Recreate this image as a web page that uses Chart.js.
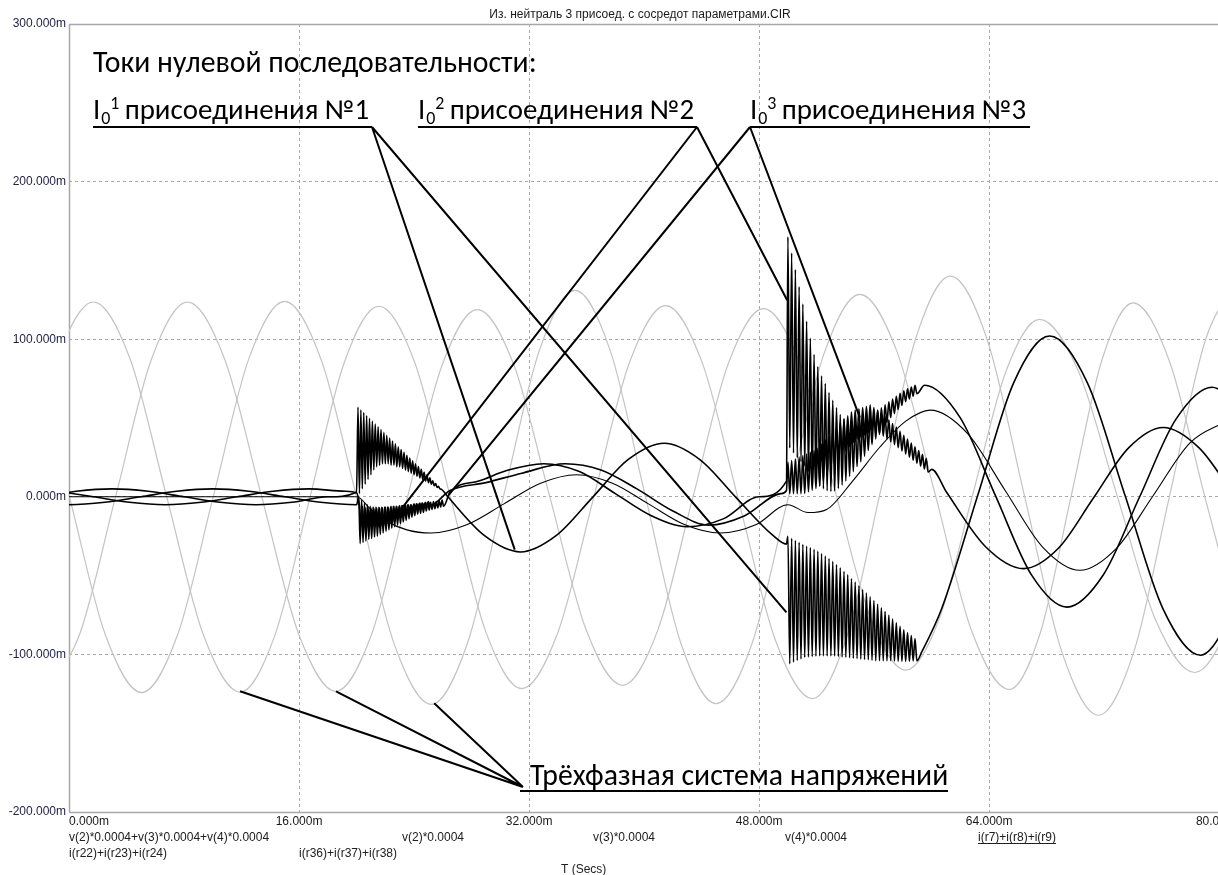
<!DOCTYPE html>
<html>
<head>
<meta charset="utf-8">
<script src="https://cdn.jsdelivr.net/npm/chart.js@4.4.1/dist/chart.umd.min.js"></script>
<style>
  html, body { margin: 0; padding: 0; background: #fff; overflow: hidden; width: 1218px; height: 875px; }
  #wrap { position: relative; width: 1262px; height: 875px; }
  canvas { display: block; }
</style>
</head>
<body>
<div id="wrap"><canvas id="plot" width="1262" height="875"></canvas></div>
<script>
// ---- axis ticks (ms / m-units) ----
const xTickValues = [0, 16, 32, 48, 64, 80];
const yTickValues = [300, 200, 100, 0, -100, -200];

// ---- phase voltages v(2), v(3), v(4) scaled by 0.0004: extremes and quarter points ----
const v2T = [-8.3,-5.8,-3.3,-0.8,1.7,4.25,6.8,9.35,11.9,14.31,16.73,19.14,21.55,24.04,26.53,29.01,31.5,34.0,36.5,39.0,41.5,44.05,46.6,49.15,51.7,54.1,56.5,58.9,61.3,63.88,66.45,69.03,71.6,74.08,76.55,79.03,81.5];
const v2V = [-123.6,-87.4,0,87.4,123.6,87.4,-0.2,-87.7,-123.9,-88.1,-1.5,85.1,120.9,85.4,-0.4,-86.2,-121.7,-86.1,-0.2,85.7,121.3,84.8,-3.4,-91.5,-128,-88.8,6,100.8,140,99.2,0.7,-97.8,-138.6,-97.8,0.7,99.2,140];

const v3T = [-1.76,0.74,3.24,5.74,8.24,10.82,13.4,15.98,18.56,21.02,23.48,25.94,28.4,30.93,33.45,35.98,38.5,40.95,43.4,45.85,48.3,50.78,53.25,55.73,58.2,60.53,62.85,65.18,67.5,70.2,72.9,75.6,78.3,80.73,83.15];
const v3V = [-123.4,-87.2,0.1,87.4,123.6,87.4,0.1,-87.2,-123.4,-87.9,-2.3,83.3,118.8,83.9,-0.4,-84.7,-119.6,-84.6,-0.1,84.4,119.4,85.8,4.7,-76.4,-110,-77.4,1.3,80.0,112.6,79.8,0.6,-78.7,-111.5,-78.8,0.3];

const v4T = [-5.0,-2.49,0.03,2.54,5.05,7.54,10.03,12.51,15.0,17.55,20.1,22.65,25.2,27.7,30.2,32.7,35.2,37.65,40.1,42.55,45.0,47.5,50.0,52.5,55.0,57.6,60.2,62.8,65.4,67.55,69.7,71.85,74.0,76.5,79.0,81.5];
const v4V = [124,87.7,-0.1,-87.9,-124.2,-87.9,-0.1,87.7,124,86.6,-3.9,-94.3,-131.7,-93.2,-0.4,92.5,131,92.6,-0.1,-92.8,-131.2,-93.2,-1.4,90.5,128.5,91.8,3.1,-85.6,-122.3,-86.4,0.4,87.1,123,87.0,0,-87.0];

// ---- zero-sequence voltage v(2)+v(3)+v(4) ----
const u0T = [0,20,21,22,23.5,25.2,27.7,30.25,32.8,35.3,37.8,40.3,42.8,45.3,47.8,50,51.4,52.7,54.5,56.4,58.2,59.9,62.5,65.1,67.7,70.3,72.85,75.4,77.95,80.5];
const u0V = [0,0,-8,-15,-21,-23,-17.6,-4.5,8.6,14,8.6,-4.5,-17.6,-23,-17.6,-5,-10,-8,10,31.6,48,55,40.1,4.2,-31.7,-46.6,-32.7,0.7,34.1,48];

// ---- feeder 1: i(r22)+i(r23)+i(r24) ----
const ia1T = [-2,0.5,3,5.5,8,10.5,13,15.5,18,20];
const ia1V = [0,3.5,5,3.5,0,-3.5,-5,-3.5,0,2.9];
const iaB1Start = 20.1, iaB1Step = 0.2;
const iaB1Hi = [57,55.2,53.4,51.6,49.8,48,46.2,44.4,42.6,40.8,39,37.2,35.4,33.6,31.8,30,28.2,26.4,24.6,22.8,21,19.2,17.4,15.6,13.8,12,10.2,8.4,6.6,4.8];
const iaB1Lo = [2,5,8,11,14,17,19,20,21,21,21,20,20,19,19,18,17,16,15,14,13,12,11,10,9,8,7,6,5,4];
const ia2T = [26.4,28.9,31.4,33.9,36.4,38.9,41.4,43.9,46.4,48.9,49.9];
const ia2V = [-0.5,-24.7,-35,-24.5,-0.5,23.7,34,23.5,-0.5,-24,-30];
const iaB2Start = 50.0, iaB2Step = 0.26;
const iaB2Hi = [-25,-26.3,-27.6,-28.9,-30.2,-31.2,-32.2,-33.3,-34.5,-36,-37.6,-39.2,-41,-43,-45.1,-47.2,-49.4,-51.8,-54.1,-56.5,-58.8,-61.1,-63.5,-65.8,-68.2,-70.5,-72.8,-75.2,-77.5,-79.9,-82.2,-84.4,-86.2,-88.1,-89.9];
const iaB2Lo = [-106,-104.9,-103.9,-102.9,-102.0,-101.7,-101.4,-101.2,-101.0,-101.0,-101.0,-101.0,-101.1,-101.4,-101.7,-101.9,-102.1,-102.4,-102.7,-103.0,-103.2,-103.4,-103.7,-104.0,-104.0,-104.0,-104.0,-104.0,-104.2,-104.3,-104.4,-104.5,-104.4,-104.2,-104.1];
const ia3T = [59.3,60.7,63.2,65.7,68.2,70.83,73.45,76.08,78.7,81.3];
const ia3V = [-98.6,-70.9,0.8,72.3,102,72.3,0.8,-70.9,-100.5,-70];

// ---- feeder 2: i(r36)+i(r37)+i(r38) ----
const ib1T = [-2.5,0,2.5,5,7.5,10,12.5,15,17.5,20];
const ib1V = [-3.5,-5,-3.5,0,3.5,5,3.5,0,-3.5,-5];
const ibB1Start = 20.15, ibB1Step = 0.2;
const ibB1Hi = [0,-2,-4,-5,-6,-6.5,-6.5,-6.5,-6.5,-6.5,-6.5,-6.5,-6,-6,-6,-5.5,-5.5,-5,-5,-5,-4.5,-4.5,-4,-4,-3.5,-3.5,-3,-3,-2.5,-2];
const ibB1Lo = [-29.7,-29,-28,-27,-26.5,-25.5,-25,-24,-23,-22,-21,-20,-19,-18,-17,-16,-15,-14,-13,-12,-11,-10.5,-10,-9,-8.5,-8,-7.5,-7,-6.5,-6];
const ib2T = [26.5,28.5,30.5,33,35.5,38,40.5,43,45.5,48,49.9];
const ib2V = [3,10,16.8,21,16,2,-12,-19,-14,0,10];
const ibB2Start = 50.0, ibB2Step = 0.26;
const ibB2Hi = [165,154.6,144.2,133.2,122.3,111.4,100.6,90.2,82.6,76.8,71.8,66.1,61.3,56.7,52.2,49.6,48.0,47.5,47.2,47.0,48.2,49.8,51.3,52.9,54.7,56.5,58.3,60.2,62.0,63.8,65.6,67.2,68.5,69.6,70.8];
const ibB2Lo = [31,27.8,24.8,22.2,19.5,15.8,12.2,9.2,6.6,5.0,3.8,3.3,3.7,5.3,7.4,10.0,13.0,16.0,19.2,22.2,25.8,29.4,33.1,36.7,40.1,43.5,46.9,50.2,52.8,55.4,58.0,60.4,62.1,63.8,65.4];
const ib3T = [59.5,61.98,64.45,66.93,69.4,71.93,74.45,76.98,79.5,82];
const ib3V = [70.8,50.2,0.4,-49.4,-70,-49.6,-0.3,49.1,69.5,49];

// ---- feeder 3: i(r7)+i(r8)+i(r9) ----
const ic1T = [-0.8,1.7,4.2,6.7,9.2,11.7,14.2,16.7,19.2,20];
const ic1V = [3.5,0,-3.5,-5,-3.5,0,3.5,5,3.5,2.5];
const icB1Start = 20.2, icB1Step = 0.2;
const icB1Hi = [-6,-6,-7,-7,-7,-7,-7,-7,-7,-6.5,-6.5,-6,-6,-6,-5.5,-5.5,-5,-5,-5,-4.5,-4.5,-4,-4,-3.5,-3];
const icB1Lo = [-19,-20,-20,-20,-19.5,-19,-19,-18.5,-18,-17.5,-17,-16,-15,-14,-13,-12,-11,-10,-9,-8,-7.5,-7,-6.5,-6,-5.5];
const ic2T = [26.5,29,31.5,34.5,37,39.5,42,44.5,47,49.5,49.9];
const ic2V = [4,9,15,21,17,5,-9,-18,-12,2,4];
const icB2Start = 50.0, icB2Step = 0.26;
const icB2Hi = [22,23,24,25.2,26.2,27.2,28.2,29.3,30.8,33.5,36.2,38.8,41.6,44.2,46.8,49.1,51.4,53.8,55.1,55.9,56.7,57.5,58.3,56.6,55.1,53.5,51.1,48.8,46.5,44.2,41.5,39.0,36.6,34.1,31.7,29.3,26.9,24.5];
const icB2Lo = [2,2,2,2,2.2,3.2,4.2,5.3,7.0,10.1,13.4,16.6,19.8,23.0,26.0,28.9,31.8,34.6,36.5,37.7,39.1,40.5,41.7,40.6,39.5,38.5,36.7,34.8,33.1,31.2,29.1,27.2,25.2,23.3,21.3,19.5,17.7,15.7];
const ic3T = [60,61.05,63.73,66.4,68.83,71.25,73.68,76.1,78.6,81.1];
const ic3V = [17.4,2.7,-31.5,-45.6,-32.5,-0.8,30.9,44,31,0];

// ---- helpers turning the arrays into {x, y} point lists ----
function pts(T, V) { return T.map((t, i) => ({ x: t, y: V[i] })); }
function ringing(start, step, hi, lo) {
  const out = [];
  for (let k = 0; k < hi.length; k++) {
    out.push({ x: start + k * step, y: hi[k] });
    out.push({ x: start + (k + 0.5) * step, y: lo[k] });
  }
  return out;
}

const gray = '#c4c4c4';
const ink = '#000000';
function line(data, color, width) {
  return {
    data, borderColor: color, borderWidth: width, pointRadius: 0,
    fill: false, cubicInterpolationMode: 'monotone', parsing: false
  };
}

const datasets = [
  line([...pts(ia1T, ia1V), ...ringing(iaB1Start, iaB1Step, iaB1Hi, iaB1Lo), ...pts(ia2T, ia2V),
        ...ringing(iaB2Start, iaB2Step, iaB2Hi, iaB2Lo), ...pts(ia3T, ia3V)], ink, 1.6),
  line([...pts(ib1T, ib1V), ...ringing(ibB1Start, ibB1Step, ibB1Hi, ibB1Lo), ...pts(ib2T, ib2V),
        ...ringing(ibB2Start, ibB2Step, ibB2Hi, ibB2Lo), ...pts(ib3T, ib3V)], ink, 1.6),
  line([...pts(ic1T, ic1V), ...ringing(icB1Start, icB1Step, icB1Hi, icB1Lo), ...pts(ic2T, ic2V),
        ...ringing(icB2Start, icB2Step, icB2Hi, icB2Lo), ...pts(ic3T, ic3V)], ink, 1.6),
  line(pts(u0T, u0V), ink, 1.1),
  line(pts(v2T, v2V), gray, 1.2),
  line(pts(v3T, v3V), gray, 1.2),
  line(pts(v4T, v4V), gray, 1.2)
];

// ---- texts ----
const titleText = 'Из. нейтраль 3 присоед. с сосредот параметрами.CIR';
const traceRow1 = [['v(2)*0.0004+v(3)*0.0004+v(4)*0.0004', 69], ['v(2)*0.0004', 402], ['v(3)*0.0004', 593], ['v(4)*0.0004', 785], ['i(r7)+i(r8)+i(r9)', 978]];
const traceRow2 = [['i(r22)+i(r23)+i(r24)', 69], ['i(r36)+i(r37)+i(r38)', 299]];
const axisName = 'T (Secs)';
const headerText = 'Токи нулевой последовательности:';
const feederLabels = [
  { n: '1', rest: 'присоединения №1', x: 93, ulFrom: 93, ulTo: 372, anchorX: 372,
    targets: [[31.0, -33.5], [49.9, -73.3]] },
  { n: '2', rest: 'присоединения №2', x: 418, ulFrom: 418, ulTo: 697, anchorX: 697,
    targets: [[23.2, -6.7], [49.95, 124.7]] },
  { n: '3', rest: 'присоединения №3', x: 750, ulFrom: 750, ulTo: 1030, anchorX: 750,
    targets: [[26.4, 1.0], [55.0, 50.4]] }
];
const voltText = 'Трёхфазная система напряжений';
const voltTargets = [[11.9, -123.4], [18.57, -123.4], [25.4, -131.0]];

const sansTick = "'Liberation Sans', Arial, sans-serif";
const sansNote = "Carlito, Lato, 'Open Sans', sans-serif";

const framePlugin = {
  id: 'frame',
  beforeDatasetsDraw(chart) {
    const { ctx, chartArea: a } = chart;
    ctx.save();
    ctx.strokeStyle = '#a8a8a8';
    ctx.lineWidth = 1.5;
    ctx.beginPath();
    ctx.moveTo(a.left, a.top + 0.5); ctx.lineTo(a.right, a.top + 0.5);
    ctx.moveTo(a.left + 0.5, a.top); ctx.lineTo(a.left + 0.5, a.bottom);
    ctx.moveTo(a.left, a.bottom + 0.5); ctx.lineTo(a.right, a.bottom + 0.5);
    ctx.stroke();
    ctx.restore();
  }
};

function labelWidth(ctx, size, f) {
  ctx.font = `${size}px ${sansNote}`;
  let w = ctx.measureText('I').width + 1;
  ctx.font = `${size * 0.62}px ${sansNote}`;
  w += ctx.measureText('0').width + ctx.measureText(f.n).width + size * 0.18;
  ctx.font = `${size}px ${sansNote}`;
  return w + ctx.measureText(f.rest).width;
}

const notesPlugin = {
  id: 'notes',
  afterDraw(chart) {
    const { ctx } = chart;
    const xs = chart.scales.x, ys = chart.scales.y;
    ctx.save();
    // file title
    ctx.fillStyle = '#1a1a1a';
    ctx.font = `12px ${sansTick}`;
    ctx.textAlign = 'center';
    ctx.textBaseline = 'alphabetic';
    ctx.fillText(titleText, 640, 18);
    // trace expressions under the axis
    ctx.textAlign = 'left';
    ctx.fillStyle = '#202020';
    for (const [t, x] of traceRow1) ctx.fillText(t, x, 841);
    for (const [t, x] of traceRow2) ctx.fillText(t, x, 857);
    const sel = traceRow1[4];
    const w = ctx.measureText(sel[0]).width;
    ctx.fillRect(sel[1], 843, w, 1);
    ctx.fillText(axisName, 561, 873);

    // annotation font size fitted to the header width
    ctx.font = `100px ${sansNote}`;
    const size = 100 * 444 / ctx.measureText(headerText).width;
    const big = `${size}px ${sansNote}`;
    ctx.fillStyle = '#000';
    ctx.font = big;
    ctx.fillText(headerText, 93, 72);

    const f0 = feederLabels[0];
    const lsize = size * (f0.ulTo - 3 - f0.x) / labelWidth(ctx, size, f0);
    const lbig = `${lsize}px ${sansNote}`;
    const lsmall = `${lsize * 0.62}px ${sansNote}`;

    ctx.strokeStyle = '#000';
    ctx.lineWidth = 2;
    for (const f of feederLabels) {
      ctx.font = lbig;
      ctx.fillText('I', f.x, 119);
      let x = f.x + ctx.measureText('I').width + 1;
      ctx.font = lsmall;
      ctx.fillText('0', x, 119 + lsize * 0.16);
      x += ctx.measureText('0').width;
      ctx.fillText(f.n, x, 119 - lsize * 0.36);
      x += ctx.measureText(f.n).width + lsize * 0.18;
      ctx.font = lbig;
      ctx.fillText(f.rest, x, 119);
      ctx.beginPath();
      ctx.moveTo(f.ulFrom, 127); ctx.lineTo(f.ulTo, 127);
      for (const [t, v] of f.targets) {
        ctx.moveTo(f.anchorX, 127);
        ctx.lineTo(xs.getPixelForValue(t), ys.getPixelForValue(v));
      }
      ctx.stroke();
    }

    ctx.font = big;
    ctx.fillText(voltText, 530, 785);
    ctx.beginPath();
    ctx.moveTo(520, 791); ctx.lineTo(948, 791);
    for (const [t, v] of voltTargets) {
      ctx.moveTo(523, 787);
      ctx.lineTo(xs.getPixelForValue(t), ys.getPixelForValue(v));
    }
    ctx.stroke();
    ctx.restore();
  }
};

new Chart(document.getElementById('plot'), {
  type: 'line',
  data: { datasets },
  options: {
    responsive: false,
    animation: false,
    devicePixelRatio: 1,
    layout: { padding: { left: 0, right: 14, top: 24, bottom: 0 } },
    plugins: { legend: { display: false }, title: { display: false }, tooltip: { enabled: false } },
    scales: {
      x: {
        type: 'linear', min: 0, max: 82,
        afterBuildTicks(scale) { scale.ticks = [...xTickValues, 82].map(v => ({ value: v })); },
        afterFit(scale) { scale.height = 63; },
        ticks: {
          align: 'inner', padding: 2, color: '#1a1a1a',
          font: { family: sansTick, size: 12 },
          callback: v => (xTickValues.includes(v) ? v.toFixed(3) + 'm' : '')
        },
        border: { display: false, dash: [3, 3] },
        grid: {
          drawTicks: false,
          color: c => (c.tick && (c.tick.value === 0 || c.tick.value === 82) ? 'rgba(0,0,0,0)' : '#a8a8a8'),
          lineWidth: 1
        }
      },
      y: {
        type: 'linear', min: -200, max: 300,
        afterBuildTicks(scale) { scale.ticks = yTickValues.map(v => ({ value: v })); },
        afterFit(scale) { scale.width = 69; },
        ticks: {
          padding: 3, color: '#1e1e46',
          font: { family: sansTick, size: 12 },
          callback: v => v.toFixed(3) + 'm'
        },
        border: { display: false, dash: [3, 3] },
        grid: {
          drawTicks: false,
          color: c => (c.tick && (c.tick.value === 300 || c.tick.value === -200) ? 'rgba(0,0,0,0)' : '#a8a8a8'),
          lineWidth: 1
        }
      }
    }
  },
  plugins: [framePlugin, notesPlugin]
});
</script>
</body>
</html>
